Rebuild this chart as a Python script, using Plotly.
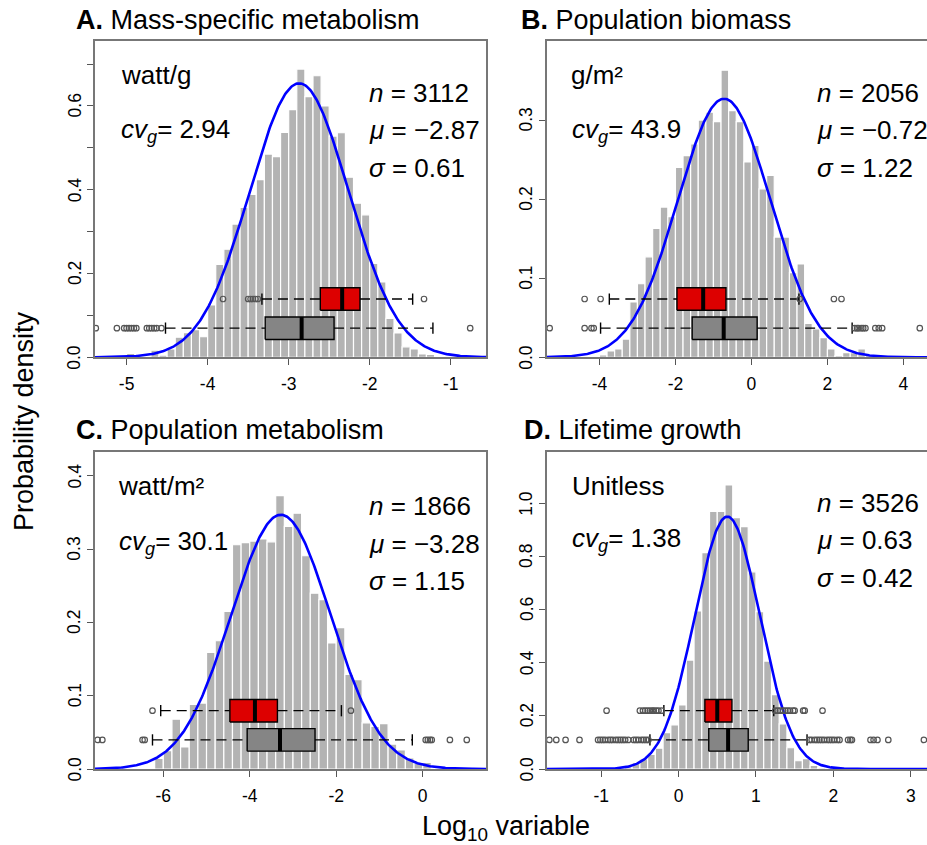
import numpy as np
import plotly.graph_objects as go

# ---------------- DATA ----------------
# Panel A: Mass-specific metabolism (bin width 0.1, left edges)
A_edges = [-5.0, -4.9, -4.8, -4.7, -4.6, -4.5, -4.4, -4.3, -4.2, -4.1, -4.0, -3.9, -3.8, -3.7,
           -3.6, -3.5, -3.4, -3.3, -3.2, -3.1, -3.0, -2.9, -2.8, -2.7, -2.6, -2.5, -2.4, -2.3,
           -2.2, -2.1, -2.0, -1.9, -1.8, -1.7, -1.6, -1.5, -1.4, -1.3]
A_density = [0.0095, 0.0, 0.0, 0.017, 0.005, 0.02, 0.048, 0.059, 0.066, 0.049, 0.125, 0.222, 0.258, 0.318,
             0.358, 0.389, 0.424, 0.485, 0.479, 0.537, 0.591, 0.688, 0.622, 0.672, 0.600, 0.528, 0.536, 0.430,
             0.368, 0.340, 0.224, 0.180, 0.093, 0.058, 0.025, 0.020, 0.008, 0.007]

# Panel B: Population biomass (bin width 0.2)
B_edges = [-4.0, -3.8, -3.6, -3.4, -3.2, -3.0, -2.8, -2.6, -2.4, -2.2, -2.0, -1.8, -1.6, -1.4, -1.2,
           -1.0, -0.8, -0.6, -0.4, -0.2, 0.0, 0.2, 0.4, 0.6, 0.8, 1.0, 1.2, 1.4, 1.6, 1.8, 2.0, 2.2,
           2.4, 2.6, 2.8, 3.0, 3.2]
B_density = [0.003, 0.008, 0.0105, 0.023, 0.070, 0.093, 0.127, 0.163, 0.190, 0.178, 0.240, 0.255, 0.270,
             0.300, 0.310, 0.298, 0.363, 0.312, 0.298, 0.247, 0.268, 0.213, 0.230, 0.152, 0.152, 0.107,
             0.118, 0.043, 0.036, 0.025, 0.0105, 0.002, 0.006, 0.006, 0.0105, 0.003, 0.003]

# Panel C: Population metabolism (bin width 0.2)
C_edges = [-6.2, -6.0, -5.8, -5.6, -5.4, -5.2, -5.0, -4.8, -4.6, -4.4, -4.2, -4.0, -3.8, -3.6, -3.4,
           -3.2, -3.0, -2.8, -2.6, -2.4, -2.2, -2.0, -1.8, -1.6, -1.4, -1.2, -1.0, -0.8, -0.6, -0.4,
           -0.2, 0.0]
C_density = [0.0146, 0.025, 0.068, 0.030, 0.088, 0.090, 0.159, 0.175, 0.215, 0.306, 0.309, 0.311, 0.314,
             0.310, 0.373, 0.331, 0.349, 0.291, 0.240, 0.231, 0.172, 0.193, 0.129, 0.122, 0.063, 0.058,
             0.062, 0.034, 0.026, 0.015, 0.008, 0.009]

# Panel D: Lifetime growth (bin width 0.1)
D_edges = [-0.7, -0.6, -0.5, -0.4, -0.3, -0.2, -0.1, 0.0, 0.1, 0.2, 0.3, 0.4, 0.5, 0.6, 0.7, 0.8,
           0.9, 1.0, 1.1, 1.2, 1.3, 1.4, 1.5, 1.6, 1.7, 1.8, 1.9]
D_density = [0.009, 0.024, 0.038, 0.055, 0.078, 0.137, 0.166, 0.241, 0.410, 0.595, 0.814, 0.969, 0.969,
             1.069, 0.946, 0.912, 0.742, 0.592, 0.406, 0.280, 0.170, 0.080, 0.031, 0.039, 0.014, 0.005,
             0.003]

# Fitted normal parameters
MU = [-2.87, -0.72, -3.28, 0.63]
SIGMA = [0.61, 1.22, 1.15, 0.42]
N = [3112, 2056, 1866, 3526]
CVG = ["2.94", "43.9", "30.1", "1.38"]
TITLES = ["Mass-specific metabolism", "Population biomass", "Population metabolism", "Lifetime growth"]
LETTERS = ["A.", "B.", "C.", "D."]
UNITS = ["watt/g", "g/m²", "watt/m²", "Unitless"]

# Boxplot stats: [lower whisker, Q1, median, Q3, upper whisker]
A_red = [-3.33, -2.61, -2.34, -2.12, -1.47]
A_red_out = [-3.81, -3.50, -3.47, -3.44, -3.41, -3.38, -1.33]
A_gray = [-4.52, -3.29, -2.84, -2.44, -1.22]
A_gray_out = [-5.38, -5.12, -5.03, -5.00, -4.97, -4.94, -4.91, -4.88, -4.75, -4.72, -4.69, -4.66,
              -4.63, -4.57, -0.76]

B_red = [-3.74, -1.96, -1.27, -0.67, 1.25]
B_red_out = [-4.39, -3.97, 1.27, 2.17, 2.37]
B_gray = [-3.97, -1.56, -0.73, 0.15, 2.65]
B_gray_out = [-5.31, -4.39, -4.21, -4.15, 2.72, 2.78, 2.82, 2.89, 2.94, 3.00, 3.26, 3.35, 3.44, 4.43]

C_red = [-6.06, -4.46, -3.88, -3.36, -1.88]
C_red_out = [-6.25, -1.66]
C_gray = [-6.25, -4.06, -3.30, -2.49, -0.24]
C_gray_out = [-7.52, -7.41, -6.48, -6.43, 0.07, 0.12, 0.17, 0.21, 0.63, 1.02]

D_red = [-0.19, 0.34, 0.50, 0.69, 1.23]
D_red_out = [-0.93, -0.50, -0.46, -0.43, -0.40, -0.37, -0.34, -0.32, -0.29, -0.26, -0.22,
             1.25, 1.28, 1.31, 1.35, 1.38, 1.41, 1.44, 1.48, 1.50, 1.61, 1.63, 1.86]
D_gray = [-0.37, 0.39, 0.64, 0.90, 1.66]
D_gray_out = [-1.67, -1.58, -1.46, -1.28, -1.04, -1.01, -0.98, -0.95, -0.91, -0.88, -0.85, -0.81,
              -0.78, -0.75, -0.72, -0.69, -0.65, -0.58, -0.55, -0.52, -0.48, -0.45, -0.42, -0.39,
              1.69, 1.72, 1.76, 1.79, 1.82, 1.85, 1.88, 1.92, 1.95, 1.98, 2.01, 2.05, 2.08,
              2.19, 2.22, 2.24, 2.48, 2.52, 2.57, 2.71, 3.17]

# Axis ticks
A_xticks = [-5, -4, -3, -2, -1]
B_xticks = [-4, -2, 0, 2, 4]
C_xticks = [-6, -4, -2, 0]
D_xticks = [-1, 0, 1, 2, 3]
A_yticks = [0.0, 0.2, 0.4, 0.6]
A_yminor = [0.1, 0.3, 0.5, 0.7]
B_yticks = [0.0, 0.1, 0.2, 0.3]
C_yticks = [0.0, 0.1, 0.2, 0.3, 0.4]
D_yticks = [0.0, 0.2, 0.4, 0.6, 0.8, 1.0]

# ---------------- STYLE / LAYOUT ----------------
W, H = 927, 845
FONT = "Liberation Sans, Arial, Helvetica, sans-serif"
BAR_COLOR = "#b3b3b3"
FRAME = "#777777"
RED = "#dd0000"
GRAY = "#858585"

panels = [
    dict(edges=A_edges, dens=A_density, bw=0.1, xr=[-5.39, -0.565], yr=[0, 0.755],
         dom_px=(95, 486, 41, 357.3), mirror_y=True, xt=A_xticks, yt=A_yticks, ym=A_yminor,
         boxes=[(A_red, A_red_out, RED, 58.3), (A_gray, A_gray_out, GRAY, 29.1)],
         title_px=(74, 19.5), unit_px=(119, 75), cv_px=(119, 131), stat_px=(367, 92.7)),
    dict(edges=B_edges, dens=B_density, bw=0.2, xr=[-5.38, 4.62], yr=[0, 0.40],
         dom_px=(547, 927, 41, 357.3), mirror_y=False, xt=B_xticks, yt=B_yticks, ym=None,
         boxes=[(B_red, B_red_out, RED, 58.3), (B_gray, B_gray_out, GRAY, 29.1)],
         title_px=(519, 19.5), unit_px=(569, 75), cv_px=(570, 131), stat_px=(815, 92.7)),
    dict(edges=C_edges, dens=C_density, bw=0.2, xr=[-7.58, 1.465], yr=[0, 0.433],
         dom_px=(95, 486, 451.7, 769), mirror_y=True, xt=C_xticks, yt=C_yticks, ym=None,
         boxes=[(C_red, C_red_out, RED, 58.3), (C_gray, C_gray_out, GRAY, 29.1)],
         title_px=(74, 430), unit_px=(116, 486), cv_px=(117, 542.7), stat_px=(367, 506)),
    dict(edges=D_edges, dens=D_density, bw=0.1, xr=[-1.70, 3.21], yr=[0, 1.194],
         dom_px=(547, 927, 451.7, 769), mirror_y=False, xt=D_xticks, yt=D_yticks, ym=None,
         boxes=[(D_red, D_red_out, RED, 58.3), (D_gray, D_gray_out, GRAY, 29.1)],
         title_px=(522, 430), unit_px=(570, 486), cv_px=(570, 539.3), stat_px=(815, 502.7)),
]

BOX_H_PX = 22.5
STAT_SPACING = 37.5
TXT = 26
TICK_FONT = 17.5
YLABEL_OFFSET_PX = 20.5   # distance from left axis line to y tick label centre

def px_x(x):
    return x / W

def px_y(y):
    return 1 - y / H

fig = go.Figure()
annotations = []

for i, p in enumerate(panels):
    k = "" if i == 0 else str(i + 1)
    xa, ya = "x" + k, "y" + k
    x0, x1, y0, y1 = p["dom_px"]
    plot_h = y1 - y0
    ypp = (p["yr"][1] - p["yr"][0]) / plot_h  # data units per pixel

    centers = [e + p["bw"] / 2 for e in p["edges"]]
    fig.add_trace(go.Bar(x=centers, y=p["dens"], width=p["bw"], xaxis=xa, yaxis=ya,
                         marker=dict(color=BAR_COLOR, line=dict(color="white", width=1.2)),
                         hoverinfo="skip"))

    xs = np.linspace(p["xr"][0], p["xr"][1], 400)
    ys = np.exp(-0.5 * ((xs - MU[i]) / SIGMA[i]) ** 2) / (SIGMA[i] * np.sqrt(2 * np.pi))
    fig.add_trace(go.Scatter(x=xs, y=ys, mode="lines", xaxis=xa, yaxis=ya,
                             line=dict(color="#0000ff", width=2.6), hoverinfo="skip"))

    for stats, outs, fill, ycen_px in p["boxes"]:
        lo, q1, med, q3, hi = stats
        yc = ycen_px * ypp
        hh = BOX_H_PX * ypp / 2
        cap = hh / 2
        fig.add_trace(go.Scatter(x=[lo, q1, None, q3, hi], y=[yc, yc, None, yc, yc], mode="lines",
                                 xaxis=xa, yaxis=ya, line=dict(color="black", width=1.3, dash="10px,6px"),
                                 hoverinfo="skip"))
        fig.add_trace(go.Scatter(x=[q1, q3, q3, q1, q1], y=[yc - hh, yc - hh, yc + hh, yc + hh, yc - hh],
                                 mode="lines", fill="toself", fillcolor=fill, xaxis=xa, yaxis=ya,
                                 line=dict(color="black", width=1.4), hoverinfo="skip"))
        fig.add_trace(go.Scatter(x=[med, med], y=[yc - hh, yc + hh], mode="lines", xaxis=xa, yaxis=ya,
                                 line=dict(color="black", width=4), hoverinfo="skip"))
        fig.add_trace(go.Scatter(x=[lo, lo, None, hi, hi], y=[yc - cap, yc + cap, None, yc - cap, yc + cap],
                                 mode="lines", xaxis=xa, yaxis=ya, line=dict(color="black", width=1.4),
                                 hoverinfo="skip"))
        fig.add_trace(go.Scatter(x=outs, y=[yc] * len(outs), mode="markers", xaxis=xa, yaxis=ya,
                                 marker=dict(symbol="circle-open", size=5.5, color="#555555",
                                             line=dict(width=1.2, color="#555555")),
                                 hoverinfo="skip"))

    yaxis = dict(
        domain=[px_y(y1), px_y(y0)], range=p["yr"], anchor=xa,
        showline=True, linecolor=FRAME, linewidth=2, mirror=p["mirror_y"],
        ticks="outside", ticklen=6, tickwidth=1.4, tickcolor="#555555",
        tickvals=p["yt"], showticklabels=False,
        showgrid=False, zeroline=False, fixedrange=True)
    if p["ym"] is not None:
        yaxis["minor"] = dict(tickvals=p["ym"], ticks="outside", ticklen=6, tickwidth=1.4,
                              tickcolor="#555555", showgrid=False)
    fig.layout["yaxis" + k] = yaxis
    fig.layout["xaxis" + k] = dict(
        domain=[px_x(x0), min(px_x(x1), 1.0)], range=p["xr"], anchor=ya,
        showline=True, linecolor=FRAME, linewidth=2, mirror=True,
        ticks="outside", ticklen=6, tickwidth=1.4, tickcolor="#555555",
        tickvals=p["xt"], ticktext=["%g" % v for v in p["xt"]],
        ticklabelstandoff=4,
        tickfont=dict(size=TICK_FONT, color="black", family=FONT),
        showgrid=False, zeroline=False, fixedrange=True)

    # rotated y tick labels (R style), placed on the y axis scale
    for v in p["yt"]:
        annotations.append(dict(x=px_x(x0 - YLABEL_OFFSET_PX), y=v, xref="paper", yref=ya,
                                xanchor="center", yanchor="middle", showarrow=False,
                                text="%.1f" % v, textangle=-90,
                                font=dict(size=TICK_FONT, color="black", family=FONT)))

    tx, ty = p["title_px"]
    annotations.append(dict(x=px_x(tx), y=px_y(ty), xref="paper", yref="paper", xanchor="left",
                            yanchor="middle", showarrow=False,
                            text="<b>%s</b> %s" % (LETTERS[i], TITLES[i]),
                            font=dict(size=27, color="black", family=FONT)))
    ux, uy = p["unit_px"]
    annotations.append(dict(x=px_x(ux), y=px_y(uy), xref="paper", yref="paper", xanchor="left",
                            yanchor="middle", showarrow=False, text=UNITS[i],
                            font=dict(size=TXT, color="black", family=FONT)))
    cx, cy = p["cv_px"]
    annotations.append(dict(x=px_x(cx), y=px_y(cy), xref="paper", yref="paper", xanchor="left",
                            yanchor="middle", showarrow=False,
                            text="<i>cv</i><sub><i>g</i></sub>= %s" % CVG[i],
                            font=dict(size=TXT, color="black", family=FONT)))
    sx, sy = p["stat_px"]
    mu_txt = ("%.2f" % MU[i]).replace("-", "\u2212")
    lines = ["<i>n</i> = %d" % N[i], "<i>\u03bc</i> = %s" % mu_txt, "<i>\u03c3</i> = %.2f" % SIGMA[i]]
    for j, t in enumerate(lines):
        annotations.append(dict(x=px_x(sx), y=px_y(sy + j * STAT_SPACING), xref="paper", yref="paper",
                                xanchor="left", yanchor="middle", showarrow=False, text=t,
                                font=dict(size=TXT, color="black", family=FONT)))

annotations.append(dict(x=px_x(24), y=px_y(421), xref="paper", yref="paper", xanchor="center",
                        yanchor="middle", showarrow=False, text="Probability density", textangle=-90,
                        font=dict(size=27, color="black", family=FONT)))
annotations.append(dict(x=px_x(506), y=px_y(828), xref="paper", yref="paper", xanchor="center",
                        yanchor="middle", showarrow=False, text="Log<sub>10</sub> variable",
                        font=dict(size=27, color="black", family=FONT)))

fig.update_layout(width=W, height=H, margin=dict(l=0, r=0, t=0, b=0), paper_bgcolor="white",
                  plot_bgcolor="white", showlegend=False, annotations=annotations, barmode="overlay",
                  font=dict(family=FONT))

fig.write_html("out.html")
